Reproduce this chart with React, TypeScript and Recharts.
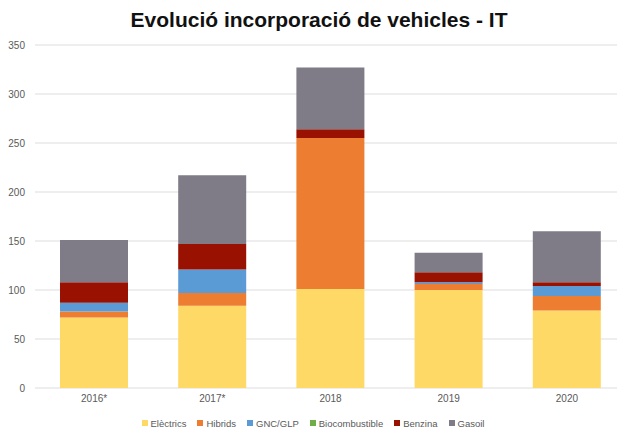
import React from 'react';
import { BarChart, Bar, XAxis, YAxis, CartesianGrid, Legend } from 'recharts';

const categories = ['2016*', '2017*', '2018', '2019', '2020'];
const electrics = [72, 84, 101, 100, 79];
const hibrids = [6, 13, 154, 6, 15];
const gncGlp = [9, 24, 0, 2, 10];
const biocombustible = [0, 0, 0, 0, 0];
const benzina = [21, 26, 9, 10, 4];
const gasoil = [43, 70, 63, 20, 52];
const yTicks = [0, 50, 100, 150, 200, 250, 300, 350];

const series = [
  { key: 'electrics', name: 'Elèctrics', color: '#FFD966', values: electrics },
  { key: 'hibrids', name: 'Hibrids', color: '#ED7D31', values: hibrids },
  { key: 'gnc', name: 'GNC/GLP', color: '#5B9BD5', values: gncGlp },
  { key: 'bio', name: 'Biocombustible', color: '#70AD47', values: biocombustible },
  { key: 'benzina', name: 'Benzina', color: '#991100', values: benzina },
  { key: 'gasoil', name: 'Gasoil', color: '#7F7B87', values: gasoil },
];

const data = categories.map((c, i) => {
  const row: Record<string, any> = { cat: c };
  series.forEach((s) => {
    row[s.key] = s.values[i];
  });
  return row;
});

const FONT = '"Liberation Sans", Arial, sans-serif';

const renderLegend = (props: any) => {
  const payload = props.payload || [];
  const ordered = series.map((s) => {
    const p = payload.find((q: any) => q.value === s.name);
    return { value: s.name, color: p ? p.color : s.color };
  });
  return (
    <div
      style={{
        display: 'flex',
        justifyContent: 'center',
        alignItems: 'center',
        height: 14,
        fontFamily: FONT,
        fontSize: 9.5,
        color: '#595959',
      }}
    >
      {ordered.map((p: any, i: number) => (
        <div key={i} style={{ display: 'flex', alignItems: 'center', marginRight: i < ordered.length - 1 ? 11 : 0 }}>
          <span style={{ display: 'inline-block', width: 6, height: 6, background: p.color, marginRight: 3 }} />
          <span>{p.value}</span>
        </div>
      ))}
    </div>
  );
};

export default function App() {
  return (
    <div style={{ position: 'absolute', left: 0, top: 0, width: 617, height: 430, overflow: 'hidden', background: '#fff' }}>
      <div
        style={{
          position: 'absolute',
          left: 0,
          top: 9,
          width: 638,
          textAlign: 'center',
          fontFamily: FONT,
          fontWeight: 'bold',
          fontSize: 21,
          lineHeight: '21px',
          color: '#111',
          whiteSpace: 'nowrap',
        }}
      >
        Evolució incorporació de vehicles - IT
      </div>
      <BarChart
        width={640}
        height={430}
        data={data}
        margin={{ top: 45, right: 14, left: 0, bottom: 0 }}
        barSize={68}
      >
        <CartesianGrid vertical={false} stroke="#DDDDDD" strokeWidth={1.2} />
        <XAxis
          dataKey="cat"
          axisLine={false}
          tickLine={false}
          tickSize={0}
          tickMargin={7}
          height={28}
          tick={{ fontSize: 10, fill: '#595959', fontFamily: FONT }}
        />
        <YAxis
          domain={[0, 350]}
          ticks={yTicks}
          axisLine={false}
          tickLine={false}
          tickSize={0}
          tickMargin={10}
          width={35}
          tick={{ fontSize: 10, fill: '#595959', fontFamily: FONT }}
        />
        <Legend verticalAlign="bottom" align="center" content={renderLegend} />
        {series.map((s) => (
          <Bar key={s.key} dataKey={s.key} name={s.name} stackId="a" fill={s.color} isAnimationActive={false} />
        ))}
      </BarChart>
    </div>
  );
}
